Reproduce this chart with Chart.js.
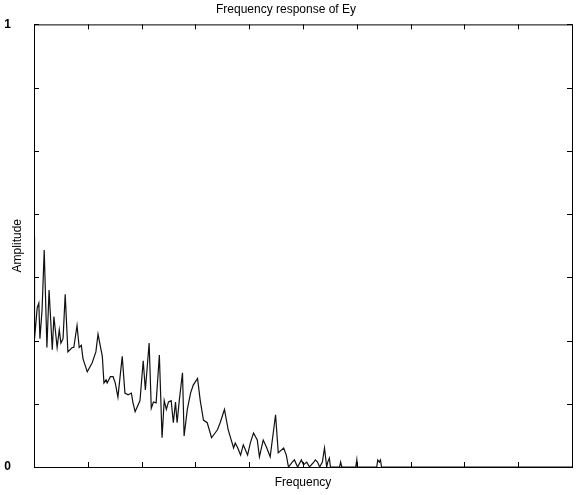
<!DOCTYPE html>
<html>
<head>
<meta charset="utf-8">
<script src="https://cdn.jsdelivr.net/npm/chart.js@4/dist/chart.umd.min.js"></script>
<style>
  html, body { margin: 0; padding: 0; background: #fff; }
  #wrap { width: 577px; height: 495px; }
</style>
</head>
<body>
<div id="wrap"><canvas id="myChart"></canvas></div>
<script>
// values (frequency axis scaled 0..100)
var freq = [0, 0.1, 0.6, 0.9, 1.1, 1.5, 1.9, 2.4, 2.8, 3.4, 3.7, 4.3, 4.7, 5.0, 5.4, 5.8, 6.3, 7.1, 7.4, 8.0,
    8.4, 8.8, 9.1, 9.9, 10.8, 11.5, 11.9, 12.7, 13.0, 13.4, 13.6, 14.2, 14.7, 15.1, 15.6, 16.4, 16.9, 17.5, 18.1, 18.4,
    18.8, 19.2, 19.7, 20.3, 20.7, 21.4, 21.8, 22.2, 22.7, 23.3, 23.8, 24.2, 24.6, 25.0, 25.5, 25.9, 26.3, 26.6, 27.0, 27.6,
    27.9, 28.5, 29.1, 29.6, 30.4, 30.9, 31.5, 32.2, 33.0, 34.1, 34.6, 35.4, 36.1, 37.1, 37.4, 37.8, 38.4, 38.9, 39.7, 40.2,
    40.8, 41.5, 41.9, 42.6, 43.2, 43.9, 44.9, 45.4, 46.4, 46.9, 47.3, 48.0, 48.4, 49.0, 49.7, 50.1, 50.7, 51.2, 52.0, 52.3,
    52.7, 53.1, 53.6, 54.0, 54.4, 54.6, 54.9, 55.1, 56.8, 57.0, 57.2, 59.8, 60.0, 60.1, 63.7, 63.9, 64.2, 64.4, 64.6, 100];
var amplitude = [0.52, 0.29, 0.36, 0.37, 0.29, 0.355, 0.49, 0.27, 0.40, 0.265, 0.34, 0.27, 0.31, 0.28, 0.29, 0.39, 0.26, 0.27, 0.27, 0.32,
    0.27, 0.275, 0.245, 0.215, 0.235, 0.26, 0.30, 0.25, 0.19, 0.197, 0.19, 0.204, 0.204, 0.19, 0.158, 0.25, 0.167, 0.163, 0.167, 0.145,
    0.125, 0.136, 0.15, 0.24, 0.174, 0.28, 0.133, 0.147, 0.145, 0.253, 0.066, 0.15, 0.13, 0.147, 0.15, 0.10, 0.147, 0.10, 0.15, 0.213,
    0.07, 0.13, 0.167, 0.185, 0.20, 0.15, 0.106, 0.10, 0.066, 0.084, 0.10, 0.13, 0.084, 0.043, 0.054, 0.045, 0.027, 0.05, 0.027, 0.054,
    0.077, 0.061, 0.023, 0.061, 0.045, 0.023, 0.118, 0.032, 0.043, 0.027, 0, 0.011, 0.016, 0, 0.016, 0.005, 0.011, 0, 0.011, 0.016,
    0.011, 0, 0.011, 0.043, 0, 0.011, 0.02, 0, 0, 0.011, 0, 0, 0.016, 0, 0, 0.016, 0.011, 0.016, 0, 0];
var xTicks = [0, 10, 20, 30, 40, 50, 60, 70, 80, 90, 100];
var yTicks = [0, 1/7, 2/7, 3/7, 4/7, 5/7, 6/7, 1];
var yLabels = {0: '0', 1: '1'};

var points = freq.map(function(f, i) { return {x: f, y: amplitude[i]}; });

// box round the plot with inward tick marks on all four sides
var boxTicks = {
    id: 'boxTicks',
    afterDatasetsDraw: function(chart) {
        var c = chart.ctx, a = chart.chartArea;
        var xs = chart.scales.x, ys = chart.scales.y;
        c.save();
        c.strokeStyle = '#000';
        c.lineWidth = 1;
        c.strokeRect(a.left + 0.5, a.top + 0.5, a.right - a.left, a.bottom - a.top);
        c.beginPath();
        xTicks.forEach(function(v) {
            var px = Math.round(xs.getPixelForValue(v)) + 0.5;
            c.moveTo(px, a.bottom); c.lineTo(px, a.bottom - 5);
            c.moveTo(px, a.top); c.lineTo(px, a.top + 5);
        });
        yTicks.forEach(function(v) {
            var py = Math.round(ys.getPixelForValue(v)) + 0.5;
            c.moveTo(a.left, py); c.lineTo(a.left + 5, py);
            c.moveTo(a.right, py); c.lineTo(a.right - 5, py);
        });
        c.stroke();
        c.restore();
    }
};

var ctx = document.getElementById('myChart').getContext('2d');
var myChart = new Chart(ctx, {
    type: 'line',
    data: {
        datasets: [{
            data: points,
            borderColor: '#111',
            borderWidth: 1.2,
            pointRadius: 0,
            fill: false,
            tension: 0
        }]
    },
    options: {
        responsive: true,
        maintainAspectRatio: false,
        animation: false,
        layout: { padding: { left: 0, right: 5, top: 0, bottom: 0 } },
        plugins: {
            legend: { display: false },
            tooltip: { enabled: false },
            title: {
                display: true,
                text: 'Frequency response of Ey',
                color: '#000',
                font: { family: 'Liberation Sans', size: 12, weight: 'normal' },
                padding: { top: 2, bottom: 8 }
            }
        },
        scales: {
            x: {
                type: 'linear',
                min: 0,
                max: 100,
                afterBuildTicks: function(s) { s.ticks = xTicks.map(function(v) { return {value: v}; }); },
                afterFit: function(s) { s.height = 28; },
                grid: { display: false },
                border: { display: false },
                ticks: { display: false },
                title: {
                    display: true,
                    text: 'Frequency',
                    color: '#000',
                    font: { family: 'Liberation Sans', size: 12 },
                    padding: { top: 0, bottom: 5 }
                }
            },
            y: {
                min: 0,
                max: 1,
                afterBuildTicks: function(s) { s.ticks = yTicks.map(function(v) { return {value: v}; }); },
                afterFit: function(s) { s.width = 34; },
                grid: { display: false },
                border: { display: false },
                ticks: {
                    color: '#000',
                    padding: 15,
                    font: { family: 'Liberation Sans', size: 12, weight: 'bold' },
                    callback: function(v) { return yLabels[v] || ''; }
                },
                title: {
                    display: true,
                    text: 'Amplitude',
                    color: '#000',
                    font: { family: 'Liberation Sans', size: 12 },
                    padding: { top: 10, bottom: 0 }
                }
            }
        }
    },
    plugins: [boxTicks]
});
</script>
</body>
</html>
